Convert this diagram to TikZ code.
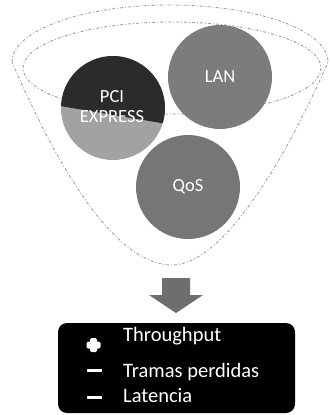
\documentclass[tikz,border=0pt]{standalone}
\usepackage{fontspec}
\setmainfont{Carlito}
\usepackage{tikz}
\usetikzlibrary{positioning}
\definecolor{pcitop}{HTML}{2B2B2B}
\definecolor{pcilow}{HTML}{A2A2A2}
\definecolor{bubblegray}{HTML}{7C7C7C}
\definecolor{arrowgray}{HTML}{6E6E6E}
\definecolor{funnelgray}{HTML}{A0A0A0}
\tikzset{
	funnel/.style={draw=funnelgray, line width=0.9pt, dash pattern=on 3pt off 2pt on 1pt off 2pt},
	bubble/.style={circle, minimum size=104pt, inner sep=0pt, text=white, font=\fontsize{18.5}{20}\selectfont, align=center},
	itemtext/.style={anchor=base west, inner sep=0pt, text=white, font=\fontsize{20.5}{20}\selectfont},
}

\begin{document}
\begin{tikzpicture}[x=1pt, y=-1pt]

	\useasboundingbox (0,0) rectangle (330,415);

	% funnel
	\draw[funnel] (12,62) arc[start angle=180, end angle=360, x radius=158, y radius=57]
		.. controls (290,150) and (225,265) .. (172,265)
		.. controls (110,265) and (50,150) .. (12,62);
	\draw[funnel] (172,68) ellipse [x radius=149, y radius=46];

	% PCI, two tone
	\fill[pcilow] (113,108) circle (52);
	\begin{scope}
		\clip (113,108) circle (52);
		\fill[pcitop] (50,40) -- (176,40) -- (176,125.5) -- (50,104.3) -- cycle;
	\end{scope}
	\node[bubble] (pci) at (112,107) {PCI\\EXPRESS};

	\node[bubble, fill=bubblegray] (lan) at (220,77) {LAN};
	\node[bubble, fill=bubblegray!95!black] (qos) at (188,187) {QoS};

	% down arrow
	\fill[arrowgray] (162,278) -- (190,278) -- (190,295) -- (203,295) -- (176,313)
		-- (149,295) -- (162,295) -- cycle;

	% result box
	\node[fill=black, rounded corners=9pt, minimum width=237pt, minimum height=90pt, inner sep=0pt] (box) at (176.5,368) {};
	\node[itemtext] (thr) at (123,341) {Throughput};
	\node[itemtext] (tram) at (123,377) {Tramas perdidas};
	\node[itemtext] (lat) at (123,402) {Latencia};

	\fill[white, rounded corners=1.5pt] (90,338) rectangle (97,352);
	\fill[white, rounded corners=1.5pt] (86.5,341.5) rectangle (100.5,348.5);
	\fill[white] (87,369) rectangle (102,372);
	\fill[white] (87,395.5) rectangle (102,398.5);

\end{tikzpicture}
\end{document}
